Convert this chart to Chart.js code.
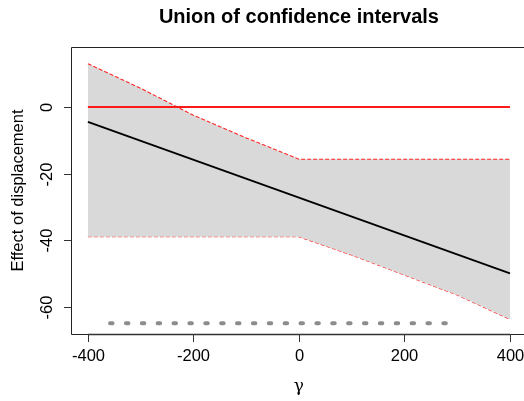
<!DOCTYPE html>
<html lang="en">
<head>
  <meta charset="UTF-8">
  <title>Union of confidence intervals</title>
  <script src="https://cdn.jsdelivr.net/npm/chart.js"></script>
  <style>
    html, body { margin: 0; padding: 0; background: #ffffff; overflow: hidden; }
    #chart-container { width: 524px; height: 401px; }
  </style>
</head>
<body>
  <div id="chart-container">
    <canvas id="ciChart" width="524" height="401"></canvas>
  </div>
  <script>
    // values
    const gammaGrid = [-400, -300, -200, -100, 0, 100, 200, 300, 400];
    const upperBound = [13.0, 5.6, -2.5, -9.3, -15.7, -15.7, -15.7, -15.7, -15.7];
    const lowerBound = [-39, -39, -39, -39, -39, -44.5, -50.5, -56.5, -63.8];
    const estimateX = [-400, 400];
    const estimateY = [-4.5, -50];
    const zeroX = [-400, 400];
    const zeroY = [0, 0];
    const dotsX = [-358, 279];
    const dotsY = [-65, -65];
    const xTicks = [-400, -200, 0, 200, 400];
    const yTicks = [-60, -40, -20, 0];

    const titleText = 'Union of confidence intervals';
    const xLabel = 'γ';
    const yLabel = 'Effect of displacement';

    const pts = (xs, ys) => xs.map((x, i) => ({ x: x, y: ys[i] }));
    const font = '16.5px "Liberation Sans", Arial, sans-serif';

    // axes, box and text drawn R-style on top of the plot
    const rAxes = {
      id: 'rAxes',
      afterDraw(chart) {
        const c = chart.ctx;
        const a = chart.chartArea;
        const xs = chart.scales.x;
        const ys = chart.scales.y;
        c.save();

        // box (right edge falls outside the picture)
        c.strokeStyle = '#222';
        c.lineWidth = 1;
        c.beginPath();
        c.moveTo(a.right + 5, a.top + 0.5);
        c.lineTo(a.left + 0.5, a.top + 0.5);
        c.lineTo(a.left + 0.5, a.bottom + 0.5);
        c.lineTo(a.right + 5, a.bottom + 0.5);
        c.stroke();

        // x axis
        c.strokeStyle = '#333';
        c.lineWidth = 1.5;
        c.beginPath();
        c.moveTo(xs.getPixelForValue(xTicks[0]), a.bottom + 0.5);
        c.lineTo(xs.getPixelForValue(xTicks[xTicks.length - 1]), a.bottom + 0.5);
        c.stroke();
        c.lineWidth = 1;
        c.fillStyle = '#000';
        c.font = font;
        c.textAlign = 'center';
        c.textBaseline = 'middle';
        xTicks.forEach(v => {
          const px = Math.round(xs.getPixelForValue(v)) + 0.5;
          c.beginPath();
          c.moveTo(px, a.bottom);
          c.lineTo(px, a.bottom + 8);
          c.stroke();
          c.fillText(String(v), px, a.bottom + 22);
        });

        // y axis
        yTicks.forEach(v => {
          const py = Math.round(ys.getPixelForValue(v)) + 0.5;
          c.beginPath();
          c.moveTo(a.left, py);
          c.lineTo(a.left - 7, py);
          c.stroke();
          c.save();
          c.translate(a.left - 24, py);
          c.rotate(-Math.PI / 2);
          c.fillText(String(v), 0, 0);
          c.restore();
        });

        // axis titles
        c.save();
        c.translate(18, (a.top + a.bottom) / 2);
        c.rotate(-Math.PI / 2);
        c.fillText(yLabel, 0, 0);
        c.restore();

        c.font = '17px "DejaVu Serif", serif';
        c.fillText(xLabel, xs.getPixelForValue(0), 387);

        // main title
        c.font = 'bold 20px "Liberation Sans", Arial, sans-serif';
        c.fillText(titleText, xs.getPixelForValue(0), 17);

        c.restore();
      }
    };

    const ctx = document.getElementById('ciChart').getContext('2d');
    const ciChart = new Chart(ctx, {
      type: 'line',
      data: {
        datasets: [
          {
            label: 'no effect',
            data: pts(zeroX, zeroY),
            borderColor: '#ff1a1a',
            borderWidth: 2,
            pointRadius: 0,
            fill: false,
            order: 0
          },
          {
            label: 'estimate',
            data: pts(estimateX, estimateY),
            borderColor: '#000000',
            borderWidth: 1.8,
            pointRadius: 0,
            fill: false,
            order: 1
          },
          {
            label: 'null set',
            data: pts(dotsX, dotsY),
            borderColor: '#8c8c8c',
            borderWidth: 4,
            borderDash: [2.5, 13.37],
            borderCapStyle: 'round',
            pointRadius: 0,
            fill: false,
            order: 2
          },
          {
            label: 'upper',
            data: pts(gammaGrid, upperBound),
            borderColor: '#ff2626',
            borderWidth: 1.1,
            borderDash: [4, 2],
            backgroundColor: '#d9d9d9',
            pointRadius: 0,
            fill: { target: 4 },
            order: 3
          },
          {
            label: 'lower',
            data: pts(gammaGrid, lowerBound),
            borderColor: '#ff2626',
            borderWidth: 1.1,
            borderDash: [4, 2],
            pointRadius: 0,
            fill: false,
            order: 4
          }
        ]
      },
      options: {
        responsive: false,
        animation: false,
        devicePixelRatio: 1,
        layout: { padding: { left: 71, top: 47, right: 0, bottom: 67 } },
        scales: {
          x: { type: 'linear', min: -432, max: 426.6, display: false },
          y: { type: 'linear', min: -68.2, max: 18, display: false }
        },
        plugins: {
          legend: { display: false },
          title: { display: false },
          tooltip: { enabled: false }
        }
      },
      plugins: [rAxes]
    });
  </script>
</body>
</html>
